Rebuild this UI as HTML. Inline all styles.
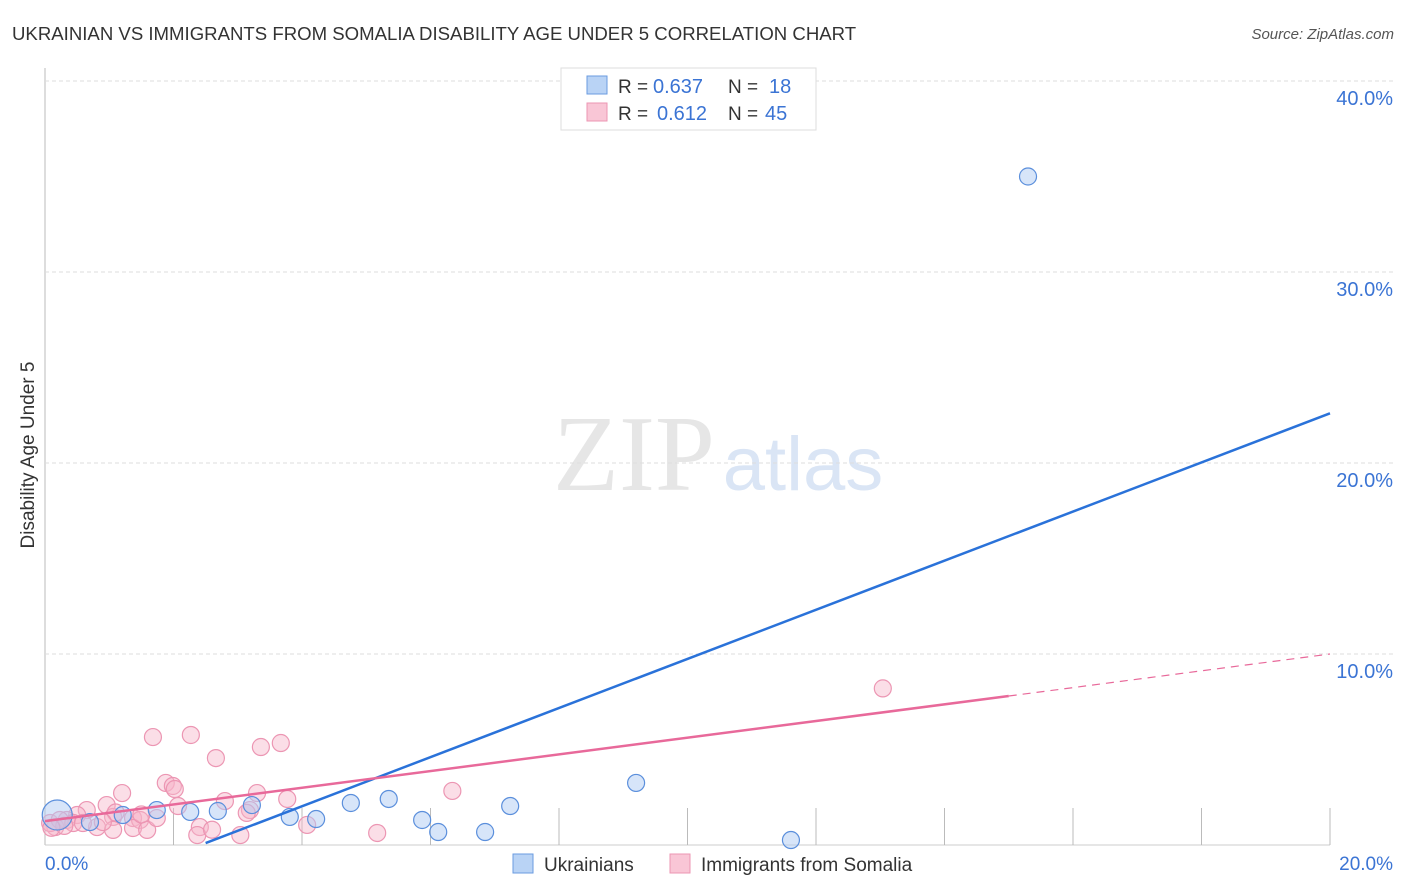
<!DOCTYPE html>
<html><head><meta charset="utf-8"><style>
body{margin:0;background:#fff;font-family:"Liberation Sans",sans-serif;}
svg{display:block}
</style></head><body>
<svg id="c" width="1406" height="892">
<text x="12" y="40" font-size="18.6" fill="#333">UKRAINIAN VS IMMIGRANTS FROM SOMALIA DISABILITY AGE UNDER 5 CORRELATION CHART</text>
<text x="1394" y="39" font-size="15" fill="#555" font-style="italic" text-anchor="end">Source: ZipAtlas.com</text>
<text x="34" y="455" font-size="19" fill="#333" text-anchor="middle" transform="rotate(-90 34 455)">Disability Age Under 5</text>
<g><text x="634" y="490" font-size="108" fill="#e6e6e6" font-family="Liberation Serif,serif" text-anchor="middle">ZIP</text><text x="803" y="490" font-size="76" fill="#dae5f5" text-anchor="middle">atlas</text></g>
<g id="grid"></g><g id="pts"></g><g id="lines"></g>
<g>
<rect x="561" y="68" width="255" height="62" fill="#fff" stroke="#ddd"/>
<rect x="587" y="76" width="20" height="18" fill="#b9d3f5" stroke="#6a9be0"/>
<rect x="587" y="103" width="20" height="18" fill="#f9c6d6" stroke="#ec96b3"/>
<text x="618" y="93" font-size="19" fill="#333">R =</text><text x="653" y="93" font-size="20" fill="#3b74d4">0.637</text>
<text x="728" y="93" font-size="19" fill="#333">N =</text><text x="769" y="93" font-size="20" fill="#3b74d4">18</text>
<text x="618" y="120" font-size="19" fill="#333">R =</text><text x="657" y="120" font-size="20" fill="#3b74d4">0.612</text>
<text x="728" y="120" font-size="19" fill="#333">N =</text><text x="765" y="120" font-size="20" fill="#3b74d4">45</text>
</g>
<g>
<rect x="513" y="854" width="20" height="19" fill="#b9d3f5" stroke="#6a9be0"/>
<text x="544" y="871" font-size="19" fill="#333">Ukrainians</text>
<rect x="670" y="854" width="20" height="19" fill="#f9c6d6" stroke="#ec96b3"/>
<text x="701" y="871" font-size="19" fill="#333">Immigrants from Somalia</text>
</g>
</svg>
<script>
const yTicks=[10,20,30,40];
const xTickLabels=["0.0%","20.0%"];
const blueX=[0.19,2.26,2.69,1.74,3.22,3.81,4.22,4.76,5.35,5.87,6.12,6.85,7.24,9.2,11.61,15.3,1.21,0.7];
const blueY=[1.57,1.73,1.78,1.83,2.09,1.47,1.36,2.2,2.41,1.31,0.68,0.68,2.04,3.25,0.26,35.0,1.57,1.2];
const pinkX=[1.68,2.27,2.66,3.36,3.67,1.88,1.99,2.02,1.2,3.3,3.77,2.8,2.07,0.96,0.65,0.5,0.34,0.16,0.08,1.06,1.37,1.48,0.81,1.06,1.37,1.59,1.74,3.19,3.14,2.41,2.37,3.04,4.08,0.23,0.44,0.59,6.34,5.17,13.04,0.3,1.1,0.9,2.6,1.5,0.1];
const pinkY=[5.65,5.76,4.55,5.13,5.34,3.25,3.09,2.93,2.72,2.72,2.41,2.30,2.04,2.09,1.83,1.57,1.31,0.94,1.15,1.47,1.41,1.31,0.94,0.79,0.89,0.79,1.41,1.83,1.68,0.94,0.52,0.52,1.05,1.31,1.15,1.15,2.83,0.63,8.2,1.0,1.7,1.2,0.8,1.6,0.9];
const blueLine=[2.5,0.1,20,22.6];
const pinkLine=[0,1.25,15,7.8,20,10.0];
const X=v=>45+v*64.25, Y=v=>845-v*19.1;
const ns="http://www.w3.org/2000/svg";
function mk(p,t,a){const e=document.createElementNS(ns,t);for(const k in a)e.setAttribute(k,a[k]);p.appendChild(e);return e;}
const g=document.getElementById('grid');
const ax=mk(g,'line',{x1:45,y1:68,x2:45,y2:845,stroke:'#bbb'});


const bx=mk(g,'line',{x1:45,y1:845,x2:1330,y2:845,stroke:'#ccc'});


yTicks.forEach(t=>{
 const l=mk(g,'line',{x1:45,y1:Y(t),x2:1393,y2:Y(t),stroke:'#ddd','stroke-dasharray':'4 3'});
 
 
 const tx=mk(g,'text',{x:1393,y:Y(t)+24,'font-size':20,fill:'#3b74d4','text-anchor':'end'});tx.textContent=t.toFixed(1)+'%';
 
 
});
for(let i=1;i<=10;i++){const l=mk(g,'line',{x1:X(i*2),y1:808,x2:X(i*2),y2:845,stroke:'#bbb'});
 
 }
const t0=mk(g,'text',{x:45,y:870,'font-size':19,fill:'#3b74d4'});t0.textContent=xTickLabels[0];


const t1=mk(g,'text',{x:1393,y:870,'font-size':19,fill:'#3b74d4','text-anchor':'end'});t1.textContent=xTickLabels[1];


const P=document.getElementById('pts');
pinkX.forEach((x,i)=>{const c=mk(P,'circle',{cx:X(x),cy:Y(pinkY[i]),r:8.5,fill:'rgba(247,182,202,0.45)',stroke:'#ec96b3','stroke-width':1.2});
 
 });
blueX.forEach((x,i)=>{const c=mk(P,'circle',{cx:X(x),cy:Y(blueY[i]),r:i==0?15:8.5,fill:'rgba(176,204,243,0.5)',stroke:'#5b8fdc','stroke-width':1.2});
 
 });
const L=document.getElementById('lines');
const bl=mk(L,'line',{x1:X(blueLine[0]),y1:Y(blueLine[1]),x2:X(blueLine[2]),y2:Y(blueLine[3]),stroke:'#2a72d9','stroke-width':2.5});


const pl=mk(L,'line',{x1:X(pinkLine[0]),y1:Y(pinkLine[1]),x2:X(pinkLine[2]),y2:Y(pinkLine[3]),stroke:'#e8699a','stroke-width':2.5});


const pd=mk(L,'line',{x1:X(pinkLine[2]),y1:Y(pinkLine[3]),x2:X(pinkLine[4]),y2:Y(pinkLine[5]),stroke:'#e8699a','stroke-width':1.2,'stroke-dasharray':'8 6'});


</script>
</body></html>
